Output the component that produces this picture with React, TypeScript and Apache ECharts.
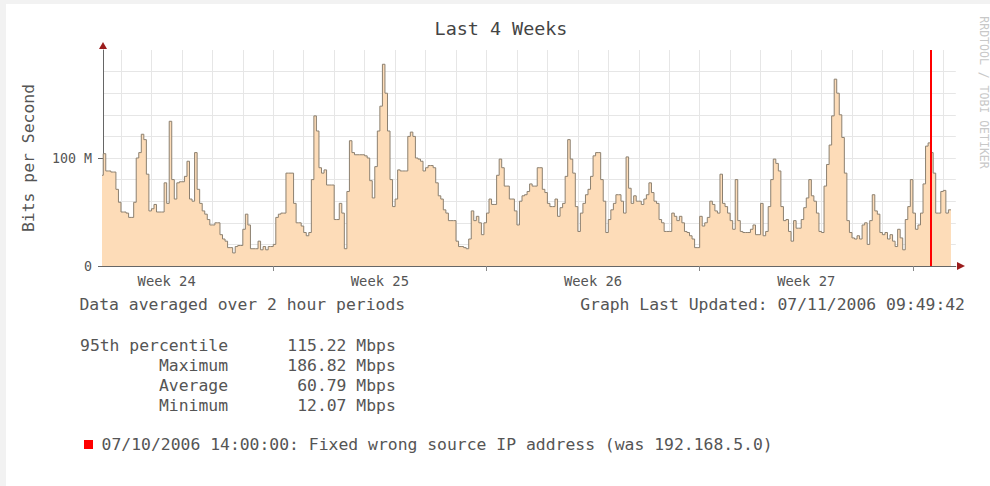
import React, { useEffect, useRef } from 'react';
import * as echarts from 'echarts';

// 2-hour averaged traffic (Mbit/s); first slot starts 2006-06-13 08:00
const trafficMbps = [
  84,
  104, 88, 88, 87, 87, 71, 59, 50, 50, 49, 45, 45,
  59, 100, 105, 122, 117, 85, 51, 53, 57, 50, 50, 50,
  77, 58, 134, 80, 62, 77, 78, 78, 83, 97, 62, 60,
  105, 71, 58, 51, 48, 43, 38, 38, 40, 40, 29, 25,
  23, 17, 17, 12.1, 18, 19, 19, 34, 48, 38, 16, 16,
  16, 23, 15, 18, 15, 18, 18, 20, 45, 48, 49, 49,
  86, 86, 86, 58, 40, 40, 37, 31, 28, 31, 80, 139,
  125, 91, 86, 89, 75, 75, 75, 43, 43, 58, 49, 16,
  69, 116, 105, 103, 103, 103, 103, 102, 100, 79, 63, 92,
  125, 148, 186.8, 160, 125, 80, 55, 62, 89, 88, 88, 88,
  120, 124, 120, 100, 99, 97, 88, 91, 93, 93, 91, 77,
  65, 62, 52, 49, 42, 42, 42, 23, 18, 18, 17, 16,
  25, 51, 42, 46, 40, 29, 40, 49, 62, 57, 57, 84,
  99, 91, 74, 74, 62, 62, 51, 38, 60, 65, 66, 69,
  76, 74, 74, 91, 91, 71, 68, 58, 55, 55, 62, 46,
  54, 58, 83, 117, 99, 86, 55, 32, 49, 58, 66, 71,
  83, 102, 105, 105, 80, 60, 31, 43, 52, 58, 66, 66,
  60, 49, 101, 72, 58, 65, 60, 60, 57, 62, 66, 77,
  68, 60, 58, 43, 40, 32, 32, 32, 49, 46, 42, 46,
  40, 32, 31, 28, 25, 17, 17, 46, 37, 40, 45, 60,
  57, 51, 49, 85, 58, 55, 49, 42, 34, 80, 42, 32,
  31, 31, 31, 34, 38, 29, 29, 58, 28, 32, 55, 80,
  99, 95, 88, 55, 42, 43, 32, 23, 42, 35, 35, 43,
  54, 63, 80, 65, 60, 49, 32, 31, 74, 94, 112, 139,
  173, 160, 140, 119, 86, 42, 31, 26, 25, 28, 25, 38,
  40, 20, 42, 66, 51, 48, 31, 29, 31, 25, 29, 23,
  18, 34, 26, 15, 43, 55, 80, 49, 34, 38, 49, 76,
  111, 114, 105, 86, 49, 49, 69, 70, 49, 52,
];

// time axis in hours since 2006-06-13 00:00
const slotStartHour = 8;
const slotHours = 2;
const graphStartHour = 9 + 49 / 60 + 42 / 3600;
const graphEndHour = graphStartHour + 28 * 24;
const dayBoundaryHours = [
  24, 48, 72, 96, 120, 144, 168, 192, 216, 240, 264, 288, 312, 336,
  360, 384, 408, 432, 456, 480, 504, 528, 552, 576, 600, 624, 648, 672,
];
const weekStartHours = [144, 312, 480, 648];
const weekMidHours = [60, 228, 396, 564];
const weekLabels = ['Week 24', 'Week 25', 'Week 26', 'Week 27'];
const eventHour = 27 * 24 + 14; // 07/10/2006 14:00

const yGridValues = [20, 40, 60, 80, 100, 120, 140, 160, 180];
const yLabelValues = [0, 100];
const yLabelTexts = ['0', '100 M'];

const statNames = ['95th percentile', 'Maximum', 'Average', 'Minimum'];
const statValues = [115.22, 186.82, 60.79, 12.07];

const titleText = 'Last 4 Weeks';
const yAxisTitle = 'Bits per Second';
const footLeft = 'Data averaged over 2 hour periods';
const footRight = 'Graph Last Updated: 07/11/2006 09:49:42';
const eventText = '07/10/2006 14:00:00: Fixed wrong source IP address (was 192.168.5.0)';
const watermark = 'RRDTOOL / TOBI OETIKER';

const FONT = '"DejaVu Sans Mono", monospace';
const TXT = '#555';

export default function App() {
  const ref = useRef<HTMLDivElement>(null);

  useEffect(() => {
    if (!ref.current) return;
    const chart = echarts.init(ref.current, null, { renderer: 'svg' });

    const seriesData: number[][] = trafficMbps.map((v, i) => [slotStartHour + i * slotHours, v]);
    seriesData.push([slotStartHour + trafficMbps.length * slotHours, trafficMbps[trafficMbps.length - 1]]);

    const cw = 9.87;
    const statX = 80;
    const statGraphics: any[] = [];
    statNames.forEach((name, i) => {
      const y = 345 + i * 20;
      statGraphics.push({
        type: 'text', silent: true,
        style: { text: name, x: statX + 15 * cw, y, fill: TXT, fontSize: 16.4, fontFamily: FONT, textAlign: 'right', textVerticalAlign: 'middle' },
      });
      statGraphics.push({
        type: 'text', silent: true,
        style: { text: statValues[i].toFixed(2), x: statX + 27 * cw, y, fill: TXT, fontSize: 16.4, fontFamily: FONT, textAlign: 'right', textVerticalAlign: 'middle' },
      });
      statGraphics.push({
        type: 'text', silent: true,
        style: { text: 'Mbps', x: statX + 28 * cw, y, fill: TXT, fontSize: 16.4, fontFamily: FONT, textAlign: 'left', textVerticalAlign: 'middle' },
      });
    });

    const option: any = {
      animation: false,
      backgroundColor: 'transparent',
      textStyle: { fontFamily: FONT },
      grid: { left: 103, top: 50, width: 852.8, height: 216, containLabel: false },
      xAxis: [
        {
          type: 'value', min: graphStartHour, max: graphEndHour, position: 'bottom',
          axisLine: { show: true, lineStyle: { color: '#666', width: 1 } },
          axisTick: { show: false, customValues: dayBoundaryHours },
          axisLabel: { show: false },
          splitLine: { show: true, lineStyle: { color: '#e6e6e6', width: 1 } },
        },
        {
          type: 'value', min: graphStartHour, max: graphEndHour, position: 'bottom',
          axisLine: { show: false },
          axisTick: { show: true, customValues: weekStartHours, length: 5, lineStyle: { color: '#888' } },
          axisLabel: {
            show: true, customValues: weekMidHours, margin: 8,
            formatter: (v: number) => weekLabels[weekMidHours.indexOf(v)] ?? '',
            color: TXT, fontSize: 13.8, fontFamily: FONT,
          },
          splitLine: { show: false },
        },
      ],
      yAxis: [
        {
          type: 'value', min: 0, max: 200, position: 'left',
          name: yAxisTitle, nameLocation: 'middle', nameGap: 67,
          nameTextStyle: { color: TXT, fontSize: 16.4, fontFamily: FONT },
          axisLine: { show: true, lineStyle: { color: '#666', width: 1 } },
          axisTick: { show: false, customValues: yGridValues },
          axisLabel: { show: false },
          splitLine: { show: true, lineStyle: { color: '#e6e6e6', width: 1 } },
        },
        {
          type: 'value', min: 0, max: 200, position: 'left',
          axisLine: { show: false },
          axisTick: { show: true, customValues: yLabelValues, length: 5, lineStyle: { color: '#666' } },
          axisLabel: {
            show: true, customValues: yLabelValues, margin: 11,
            formatter: (v: number) => yLabelTexts[yLabelValues.indexOf(v)] ?? '',
            color: TXT, fontSize: 13.3, fontFamily: FONT,
          },
          splitLine: { show: false },
        },
      ],
      series: [
        {
          type: 'line', xAxisIndex: 0, yAxisIndex: 0,
          data: seriesData, step: 'end', symbol: 'none', clip: true,
          lineStyle: { color: '#8c8070', width: 1 },
          areaStyle: { color: '#fddcb8', opacity: 1 },
          markLine: {
            silent: true, symbol: ['none', 'none'], label: { show: false },
            lineStyle: { color: '#ff0000', width: 2, type: 'solid' },
            data: [{ xAxis: eventHour }],
          },
        },
      ],
      graphic: [
        { type: 'rect', z: -100, silent: true, shape: { x: 0, y: 0, width: 990, height: 486 }, style: { fill: '#f2f2f2' } },
        { type: 'rect', z: -99, silent: true, shape: { x: 6, y: 4, width: 984, height: 482 }, style: { fill: '#ffffff' } },
        { type: 'polygon', z: 50, silent: true, shape: { points: [[99, 49], [107, 49], [103, 42]] }, style: { fill: '#9b1c1c' } },
        { type: 'polygon', z: 50, silent: true, shape: { points: [[957, 262], [957, 270], [965, 266]] }, style: { fill: '#9b1c1c' } },
        {
          type: 'text', silent: true,
          style: { text: titleText, x: 501, y: 28.7, fill: '#444', fontSize: 18.4, fontFamily: FONT, textAlign: 'center', textVerticalAlign: 'middle' },
        },
        {
          type: 'text', silent: true, x: 984, y: 92.5, rotation: -Math.PI / 2,
          style: { text: watermark, x: 0, y: 0, fill: '#c8c8c8', fontSize: 11.5, fontFamily: FONT, textAlign: 'center', textVerticalAlign: 'middle' },
        },
        {
          type: 'text', silent: true,
          style: { text: footLeft, x: 79.5, y: 304.5, fill: TXT, fontSize: 16.4, fontFamily: FONT, textAlign: 'left', textVerticalAlign: 'middle' },
        },
        {
          type: 'text', silent: true,
          style: { text: footRight, x: 965, y: 304.5, fill: TXT, fontSize: 16.4, fontFamily: FONT, textAlign: 'right', textVerticalAlign: 'middle' },
        },
        ...statGraphics,
        { type: 'rect', silent: true, shape: { x: 84, y: 440, width: 9, height: 9 }, style: { fill: '#ff0000' } },
        {
          type: 'text', silent: true,
          style: { text: eventText, x: 101.6, y: 444.4, fill: TXT, fontSize: 16.4, fontFamily: FONT, textAlign: 'left', textVerticalAlign: 'middle' },
        },
      ],
    };

    chart.setOption(option);
    return () => chart.dispose();
  }, []);

  return (
    <div
      ref={ref}
      style={{ position: 'fixed', left: 0, top: 0, width: 990, height: 486, background: '#f2f2f2' }}
    />
  );
}
